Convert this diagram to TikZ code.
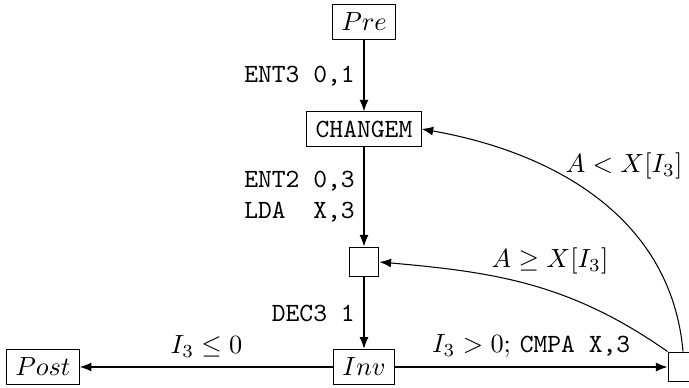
\documentclass[tikz,border=0pt]{standalone}
\usetikzlibrary{arrows.meta}
\begin{document}
\begin{tikzpicture}[x=0.3802pt,y=0.3802pt,
  box/.style={draw,inner sep=3.33pt},
  emptybox/.style={draw,minimum size=4mm,inner sep=0pt},
  arr/.style={-{Latex[length=4.4pt,width=3.4pt]}},
  lbl/.style={inner sep=3.33pt}]
\useasboundingbox (0,0) rectangle (689,387);
\node[box] (pre) at (364,365) {$Pre$};
\node[box] (chg) at (364,258) {\texttt{CHANGEM}};
\node[emptybox] (s) at (364,125) {};
\node[box] (inv) at (364,20) {$Inv$};
\node[box] (post) at (43,20) {$Post$};
\node[emptybox] (r) at (683,20) {};
\draw[arr] (pre) -- node[midway,left,lbl] {\texttt{ENT3 0,1}} (chg);
\draw[arr] (chg) -- node[midway,left,lbl,align=right] {\texttt{ENT2 0,3}\\\texttt{LDA\ \ X,3}} (s);
\draw[arr] (s) -- node[midway,left,lbl] {\texttt{DEC3 1}} (inv);
\draw[arr] (inv) -- node[midway,above,lbl] {$I_3 \leq 0$} (post);
\draw[arr] (inv) -- node[midway,above,lbl] {$I_3 > 0$; \texttt{CMPA X,3}} (r);
\draw[arr] (r.north) to[out=95,in=-10] (chg.east);
\draw[arr] (r.north west) to[out=145,in=-5] (s.east);
\node (l1) at (624,221) {$A < X[I_3]$};
\node (l2) at (550,126) {$A \geq X[I_3]$};
\end{tikzpicture}
\end{document}
